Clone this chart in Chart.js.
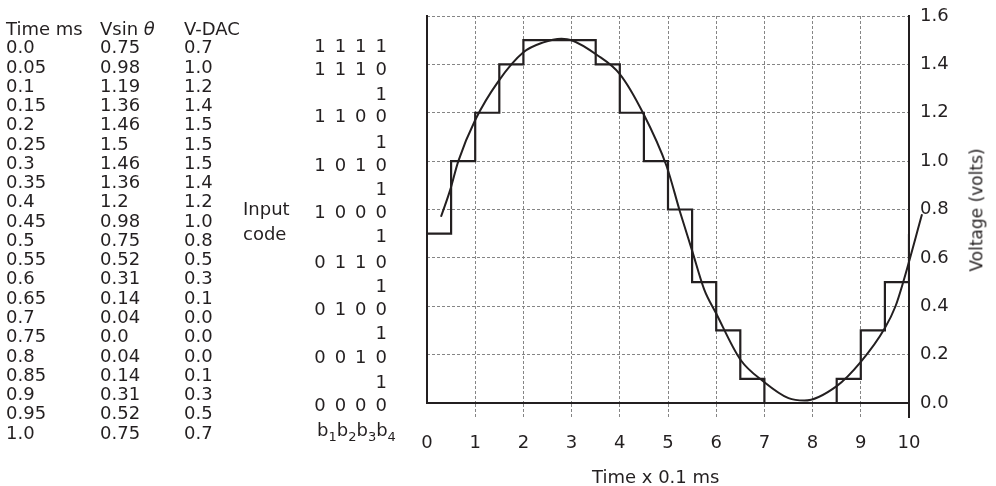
<!DOCTYPE html>
<html>
<head>
<meta charset="utf-8">
<script src="https://cdn.jsdelivr.net/npm/chart.js@4.4.1/dist/chart.umd.min.js"></script>
<style>
html, body { margin: 0; padding: 0; background: #ffffff; }
#wrap { position: relative; width: 996px; height: 486px; overflow: hidden; font-family: 'DejaVu Sans', sans-serif; color: #231f20; }
#c { position: absolute; left: 0; top: 0; }
.txt { position: absolute; font-size: 18px; line-height: 19.27px; white-space: pre; }
.sub { font-size: 13px; position: relative; top: 5px; }
</style>
</head>
<body>
<div id="wrap">
  <canvas id="c" width="996" height="486"></canvas>
  <div class="txt" style="left:6px;top:18.5px;">Time ms</div>
  <div class="txt" style="left:100px;top:18.5px;">Vsin <i>θ</i></div>
  <div class="txt" style="left:184px;top:18.5px;">V-DAC</div>
  <div class="txt" id="colT" style="left:6px;top:37.3px;"></div>
  <div class="txt" id="colS" style="left:100px;top:37.3px;"></div>
  <div class="txt" id="colD" style="left:184px;top:37.3px;"></div>
  <div class="txt" style="left:243px;top:196.3px;line-height:25px;">Input<br>code</div>
  <div class="txt" style="left:317px;top:420px;">b<span class="sub">1</span>b<span class="sub">2</span>b<span class="sub">3</span>b<span class="sub">4</span></div>
  <div class="txt" style="left:592px;top:466.6px;">Time x 0.1 ms</div>
  <div class="txt" style="left:977px;top:210px;font-size:17px;transform:translate(-50%,-50%) rotate(-90deg);">Voltage (volts)</div>
</div>
<script>
// ---- table data (as printed) ----
const timeMs = ['0.0','0.05','0.1','0.15','0.2','0.25','0.3','0.35','0.4','0.45','0.5','0.55','0.6','0.65','0.7','0.75','0.8','0.85','0.9','0.95','1.0'];
const vSin   = ['0.75','0.98','1.19','1.36','1.46','1.5','1.46','1.36','1.2','0.98','0.75','0.52','0.31','0.14','0.04','0.0','0.04','0.14','0.31','0.52','0.75'];
const vDac   = ['0.7','1.0','1.2','1.4','1.5','1.5','1.5','1.4','1.2','1.0','0.8','0.5','0.3','0.1','0.0','0.0','0.0','0.1','0.3','0.5','0.7'];

// ---- hand-drawn analog curve (x in 0.1 ms, volts) ----
const curveTime = [0.29, 0.48, 0.65, 1.0, 1.48, 2.0, 2.4, 2.79, 3.0, 3.52, 4.0, 4.48, 4.97, 5.25, 5.5, 5.75, 6.0, 6.5, 7.0, 7.5, 7.83, 8.5, 9.0, 9.5, 9.72, 9.88, 10.27];
const curveVolt = [0.77, 0.88, 1.0, 1.17, 1.33, 1.45, 1.49, 1.506, 1.50, 1.44, 1.36, 1.2, 0.98, 0.79, 0.63, 0.47, 0.37, 0.18, 0.086, 0.02, 0.01, 0.07, 0.17, 0.31, 0.4, 0.5, 0.78];

// ---- axis ticks ----
const xTicks = [0, 1, 2, 3, 4, 5, 6, 7, 8, 9, 10];
const voltTicks = [0, 0.2, 0.4, 0.6, 0.8, 1.0, 1.2, 1.4, 1.6];
const codeLabels = ['0 0 0 0','1','0 0 1 0','1','0 1 0 0','1','0 1 1 0','1','1 0 0 0','1','1 0 1 0','1','1 1 0 0','1','1 1 1 0','1 1 1 1'];
const codeLevels = [-0.012, 0.083, 0.185, 0.284, 0.383, 0.48, 0.579, 0.685, 0.785, 0.88, 0.98, 1.075, 1.18, 1.27, 1.375, 1.47];

document.getElementById('colT').textContent = timeMs.join('\n');
document.getElementById('colS').textContent = vSin.join('\n');
document.getElementById('colD').textContent = vDac.join('\n');

const INK = '#231f20';
const GRID = '#858585';
const DASH = [3, 2];
const CLEAR = 'rgba(0,0,0,0)';

Chart.defaults.font.family = "'DejaVu Sans', sans-serif";
Chart.defaults.font.size = 18;
Chart.defaults.color = INK;

function fixBox(s, w, h) {
  if (w !== null) s.width = w;
  if (h !== null) s.height = h;
  s.paddingTop = 0; s.paddingBottom = 0; s.paddingLeft = 0; s.paddingRight = 0;
}

new Chart(document.getElementById('c'), {
  type: 'scatter',
  data: {
    datasets: [
      {
        label: 'V-DAC',
        data: timeMs.map((t, i) => ({ x: Number(t) * 10, y: Number(vDac[i]) })),
        showLine: true,
        stepped: true,
        borderColor: INK,
        borderWidth: 2.2,
        pointRadius: 0,
        fill: false
      },
      {
        label: 'Vsin',
        data: curveTime.map((t, i) => ({ x: t, y: curveVolt[i] })),
        showLine: true,
        cubicInterpolationMode: 'monotone',
        borderColor: INK,
        borderWidth: 2,
        pointRadius: 0,
        fill: false,
        clip: false
      }
    ]
  },
  options: {
    responsive: false,
    animation: false,
    devicePixelRatio: 1,
    layout: { padding: { top: 16, left: 0, right: 0, bottom: 0 } },
    plugins: { legend: { display: false }, tooltip: { enabled: false } },
    scales: {
      x: {
        type: 'linear', position: 'bottom', min: 0, max: 10,
        afterBuildTicks: s => { s.ticks = xTicks.map(v => ({ value: v })); },
        afterFit: s => fixBox(s, null, 83),
        ticks: { padding: 15, autoSkip: false, maxRotation: 0, color: INK, font: { size: 18 } },
        grid: {
          drawTicks: true, tickLength: 15,
          color: c => c.index === 0 ? CLEAR : (c.index === 10 ? INK : GRID),
          lineWidth: c => c.index === 10 ? 2 : 1,
          tickColor: c => c.index === 0 ? CLEAR : (c.index === 10 ? INK : GRID),
          tickWidth: c => c.index === 10 ? 2 : 1,
          tickBorderDash: c => c.index === 10 ? [] : DASH
        },
        border: { display: true, color: INK, width: 2, dash: c => (c.tick && c.index !== 10) ? DASH : [] }
      },
      y: {
        type: 'linear', position: 'right', min: 0, max: 1.6,
        afterBuildTicks: s => { s.ticks = voltTicks.map(v => ({ value: v })); },
        afterFit: s => fixBox(s, 87, null),
        ticks: { padding: 11, autoSkip: false, color: INK, font: { size: 18 }, callback: v => Number(v).toFixed(1) },
        grid: { drawTicks: false, color: c => (c.tick && c.tick.value === 0) ? CLEAR : GRID, lineWidth: 1 },
        border: { display: true, color: INK, width: 2, dash: c => c.tick ? DASH : [] }
      },
      yCode: {
        type: 'linear', position: 'left', min: 0, max: 1.6,
        afterBuildTicks: s => { s.ticks = codeLevels.map(v => ({ value: v })); },
        afterFit: s => fixBox(s, 427, null),
        ticks: { padding: 40, autoSkip: false, color: INK, font: { size: 18 }, callback: (v, i) => codeLabels[i].replace(/ /g, '\u2002') },
        grid: { display: false, drawTicks: false },
        border: { display: true, color: INK, width: 2 }
      }
    }
  }
});
</script>
</body>
</html>
